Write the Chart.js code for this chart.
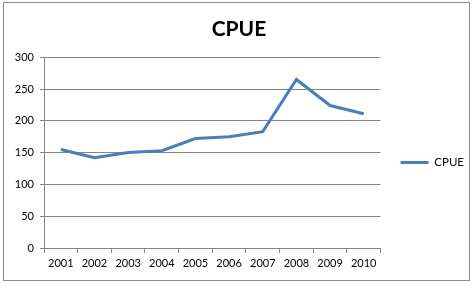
<!DOCTYPE html>
<html>
<head>
<meta charset="utf-8">
<script src="https://cdn.jsdelivr.net/npm/chart.js@4.4.1/dist/chart.umd.min.js"></script>
<style>
  html, body { margin: 0; padding: 0; background: #fff; }
  #wrap { position: relative; width: 474px; height: 286px; }
</style>
</head>
<body>
<div id="wrap"><canvas id="cpueChart" width="474" height="286"></canvas></div>
<script>
// values
const years = ["2001", "2002", "2003", "2004", "2005", "2006", "2007", "2008", "2009", "2010"];
const cpue = [155, 142, 150, 153, 172, 175, 183, 265, 224, 211];
const yTicks = [0, 50, 100, 150, 200, 250, 300];

const lineColor = "#4a7ebb";
const axisGray = "#868686";

// outer frame like the Excel chart border
const framePlugin = {
  id: "frame",
  beforeDraw(chart) {
    const ctx = chart.ctx;
    ctx.save();
    ctx.fillStyle = "#fff";
    ctx.fillRect(0, 0, chart.width, chart.height);
    ctx.strokeStyle = "#8c8c8c";
    ctx.lineWidth = 1;
    ctx.strokeRect(3.5, 2.5, 466, 278);
    ctx.restore();
  },
};

Chart.defaults.font.family = "Lato, 'Open Sans', sans-serif";
Chart.defaults.color = "#000";

const ctx = document.getElementById("cpueChart").getContext("2d");
new Chart(ctx, {
  type: "line",
  data: {
    labels: years,
    datasets: [
      {
        label: "CPUE",
        data: cpue,
        borderColor: lineColor,
        backgroundColor: lineColor,
        borderWidth: 3,
        pointRadius: 0,
        tension: 0,
      },
    ],
  },
  options: {
    responsive: false,
    animation: false,
    layout: { padding: { left: 4, right: 0, top: 0, bottom: 12 } },
    scales: {
      x: {
        offset: true,
        grid: {
          offset: true,
          drawOnChartArea: false,
          drawTicks: true,
          tickLength: 5,
          color: axisGray,
        },
        border: { color: axisGray },
        ticks: { font: { size: 11 }, padding: 4, maxRotation: 0, autoSkip: false },
        afterFit(scale) {
          scale.height = 26;
        },
      },
      y: {
        min: 0,
        max: 300,
        afterBuildTicks(scale) {
          scale.ticks = yTicks.map((v) => ({ value: v }));
        },
        grid: { color: axisGray, tickLength: 4 },
        border: { color: axisGray },
        ticks: { font: { size: 11 }, padding: 6 },
        afterFit(scale) {
          scale.width = 40;
        },
      },
    },
    plugins: {
      title: {
        display: true,
        text: "CPUE",
        font: { size: 21, weight: "bold" },
        padding: { top: 17, bottom: 15 },
      },
      legend: {
        position: "right",
        fullSize: false,
        // blank title pushes the entry a little below the plot's middle
        title: { display: true, text: " ", padding: 3, font: { size: 11.5 } },
        labels: {
          usePointStyle: true,
          pointStyle: "line",
          pointStyleWidth: 28,
          font: { size: 11.5 },
          padding: 20,
        },
      },
      tooltip: { enabled: false },
    },
  },
  plugins: [framePlugin],
});
</script>
</body>
</html>
